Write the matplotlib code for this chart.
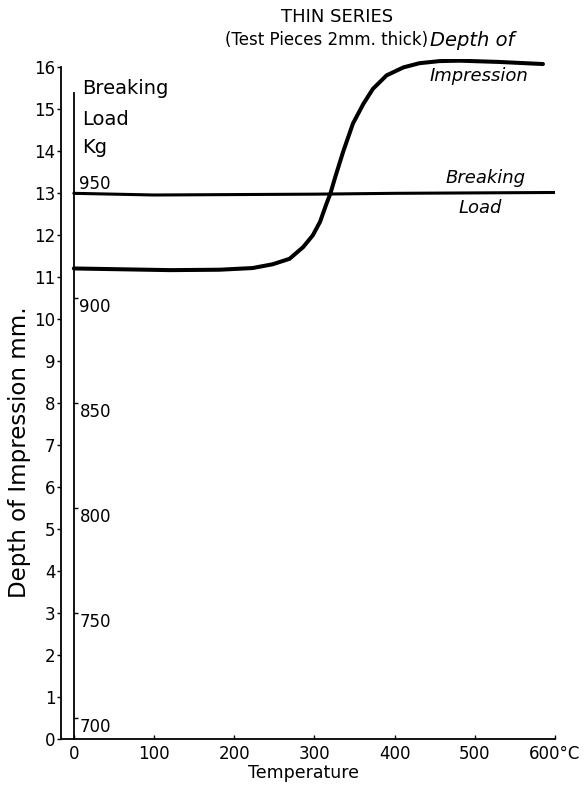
import matplotlib
matplotlib.use("Agg")
import matplotlib.pyplot as plt
import numpy as np

# depth of impression (mm) against temperature
depth_temp = [0, 60, 120, 182, 223, 248, 269, 286, 298, 307, 315, 320, 326,
              336, 348, 361, 373, 390, 411, 431, 456, 481, 530, 585]
depth_mm = [11.21, 11.19, 11.17, 11.18, 11.22, 11.31, 11.44, 11.72, 12.0,
            12.32, 12.75, 13.0, 13.39, 14.0, 14.66, 15.13, 15.49, 15.81,
            16.0, 16.1, 16.15, 16.16, 16.13, 16.08]

# breaking load (kg) against temperature
load_temp = [0, 100, 200, 300, 400, 500, 600]
load_kg = [950, 949.2, 949.4, 949.6, 950, 950.2, 950.4]

depth_ticks = list(range(0, 17))
load_ticks = [700, 750, 800, 850, 900, 950]
temp_ticks = [0, 100, 200, 300, 400, 500, 600]
temp_labels = ["0", "100", "200", "300", "400", "500", "600°C"]


def kg2mm(kg):
    return 0.5 + (np.asarray(kg, dtype=float) - 700) / 20.0


def mm2kg(mm):
    return 700 + (np.asarray(mm, dtype=float) - 0.5) * 20.0


W, H = 587, 785
fig = plt.figure(figsize=(W / 100, H / 100), dpi=100)
ax = fig.add_axes([61 / W, 1 - 739 / H, (555 - 61) / W, (739 - 59) / H])

ax.plot(depth_temp, depth_mm, color="black", lw=2.9,
        solid_capstyle="round", solid_joinstyle="round")
ax.plot(load_temp, kg2mm(load_kg), color="black", lw=2.2, solid_capstyle="round")

ax.set_xlim(-16, 600)
ax.set_ylim(0, 16.2)
ax.spines["top"].set_visible(False)
ax.spines["right"].set_visible(False)
ax.spines["left"].set_bounds(0, 16)
ax.spines["left"].set_linewidth(1.3)
ax.spines["bottom"].set_linewidth(1.3)

ax.set_yticks(depth_ticks)
ax.set_xticks(temp_ticks)
ax.set_xticklabels(temp_labels)
ax.tick_params(axis="y", direction="out", length=3, width=1, pad=1, labelsize=12)
ax.tick_params(axis="x", direction="in", length=3, width=1, pad=4, labelsize=12)

# inner breaking-load scale standing at 0 deg
sec = ax.secondary_yaxis(16 / 616, functions=(mm2kg, kg2mm))
sec.set_alignment("right")
sec.set_yticks(load_ticks)
sec.set_yticklabels([str(v) for v in load_ticks])
sec.tick_params(axis="y", direction="out", length=3, width=1, pad=1, labelsize=12)
for lab in sec.get_yticklabels():
    lab.set_va("bottom" if lab.get_text() == "950" else "top")
sec.spines["right"].set_bounds(mm2kg(0), mm2kg(15.4))
sec.spines["right"].set_linewidth(1.3)

ax.text(10, 15.5, "Breaking", fontsize=14, va="center", ha="left")
ax.text(10, 14.76, "Load", fontsize=14, va="center", ha="left")
ax.text(10, 14.1, "Kg", fontsize=14, va="center", ha="left")

fig.text(337 / W, 1 - 17 / H, "THIN SERIES", fontsize=13, ha="center", va="center")
fig.text(428 / W, 1 - 40 / H, "(Test Pieces 2mm. thick)", fontsize=12,
         ha="right", va="center")
fig.text(430 / W, 1 - 40 / H, "Depth of", fontsize=14, style="italic",
         ha="left", va="center")
fig.text(430 / W, 1 - 76 / H, "Impression", fontsize=13, style="italic",
         ha="left", va="center")
fig.text(486 / W, 1 - 178 / H, "Breaking", fontsize=13, style="italic",
         ha="center", va="center")
fig.text(480 / W, 1 - 208 / H, "Load", fontsize=13, style="italic",
         ha="center", va="center")

fig.text(20 / W, 1 - 452 / H, "Depth of Impression mm.", fontsize=16.5,
         rotation=90, ha="center", va="center")
fig.text(303 / W, 1 - 773 / H, "Temperature", fontsize=12.5,
         ha="center", va="center")

fig.savefig("out.png", dpi=100)
